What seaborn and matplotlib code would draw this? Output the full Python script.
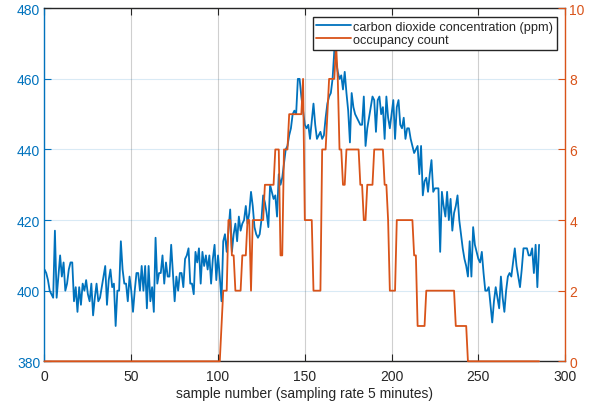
import matplotlib
matplotlib.use("Agg")
import pandas as pd
import seaborn as sns
import matplotlib.pyplot as plt

# CO2 readings per sample (ppm)
co2_ppm = [
    406, 405, 403, 400, 399, 398, 417, 398, 404, 410, 404, 408, 400, 402, 406, 408, 408, 397, 401, 394,
    401, 396, 402, 400, 403, 399, 397, 402, 393, 398, 402, 397, 398, 401, 404, 407, 396, 403, 406, 401,
    402, 390, 400, 400, 414, 406, 402, 402, 397, 404, 400, 394, 400, 405, 405, 400, 407, 400, 407, 395,
    407, 397, 401, 394, 415, 402, 405, 405, 410, 402, 408, 404, 404, 413, 405, 397, 404, 400, 405, 405,
    401, 409, 410, 412, 402, 402, 399, 411, 408, 412, 402, 411, 407, 410, 406, 410, 402, 409, 413, 403,
    410, 404, 397, 414, 416, 411, 417, 423, 411, 416, 419, 414, 421, 417, 419, 420, 424, 419, 422, 428,
    424, 418, 416, 415, 416, 420, 427, 425, 422, 418, 430, 428, 426, 427, 421, 433, 430, 432, 436, 440,
    441, 444, 446, 450, 451, 450, 460, 460, 455, 451, 447, 446, 447, 443, 448, 453, 447, 443, 444, 445,
    443, 444, 449, 453, 455, 456, 460, 468, 465, 462, 460, 461, 457, 462, 456, 451, 442, 456, 452, 450,
    449, 448, 447, 447, 455, 441, 446, 449, 452, 455, 454, 445, 454, 455, 450, 452, 443, 455, 449, 446,
    450, 454, 443, 452, 454, 447, 446, 449, 443, 446, 446, 443, 441, 439, 440, 441, 433, 441, 427, 431,
    432, 428, 433, 437, 428, 429, 429, 429, 411, 428, 424, 421, 428, 420, 426, 417, 422, 424, 427, 420,
    416, 412, 409, 407, 404, 414, 404, 418, 413, 411, 409, 408, 411, 405, 400, 400, 401, 396, 391, 397,
    401, 398, 395, 404, 398, 394, 400, 404, 405, 404, 408, 412, 407, 404, 401, 406, 412, 412, 412, 410,
    410, 412, 405, 413, 401, 413,
]

# Occupancy count per sample
occupancy = [
    0, 0, 0, 0, 0, 0, 0, 0, 0, 0, 0, 0, 0, 0, 0, 0, 0, 0, 0, 0,
    0, 0, 0, 0, 0, 0, 0, 0, 0, 0, 0, 0, 0, 0, 0, 0, 0, 0, 0, 0,
    0, 0, 0, 0, 0, 0, 0, 0, 0, 0, 0, 0, 0, 0, 0, 0, 0, 0, 0, 0,
    0, 0, 0, 0, 0, 0, 0, 0, 0, 0, 0, 0, 0, 0, 0, 0, 0, 0, 0, 0,
    0, 0, 0, 0, 0, 0, 0, 0, 0, 0, 0, 0, 0, 0, 0, 0, 0, 0, 0, 0,
    0, 0, 1, 2, 2, 2, 4, 4, 3, 3, 2, 2, 2, 2, 3, 3, 3, 4, 4, 2,
    4, 4, 4, 4, 4, 4, 4, 5, 5, 5, 5, 5, 5, 6, 6, 6, 3, 3, 6, 6,
    6, 7, 7, 7, 7, 7, 7, 7, 7, 8, 4, 4, 4, 4, 4, 2, 2, 2, 2, 2,
    6, 6, 6, 7, 8, 8, 8, 8, 9, 8, 6, 6, 5, 5, 6, 6, 6, 6, 6, 6,
    6, 6, 5, 5, 4, 4, 5, 5, 5, 5, 6, 6, 6, 6, 6, 6, 5, 5, 4, 2,
    2, 2, 2, 4, 4, 4, 4, 4, 4, 4, 4, 4, 4, 3, 3, 1, 1, 1, 1, 1,
    2, 2, 2, 2, 2, 2, 2, 2, 2, 2, 2, 2, 2, 2, 2, 2, 2, 1, 1, 1,
    1, 1, 1, 1, 0, 0, 0, 0, 0, 0, 0, 0, 0, 0, 0, 0, 0, 0, 0, 0,
    0, 0, 0, 0, 0, 0, 0, 0, 0, 0, 0, 0, 0, 0, 0, 0, 0, 0, 0, 0,
    0, 0, 0, 0, 0, 0,
]

sample = list(range(len(co2_ppm)))

x_ticks = [0, 50, 100, 150, 200, 250, 300]
co2_ticks = [380, 400, 420, 440, 460, 480]
occ_ticks = [0, 2, 4, 6, 8, 10]

blue = "#0072BD"
orange = "#D95319"
dark = "#262626"

sns.set_style("ticks")
plt.rcParams['font.family'] = ['Liberation Sans', 'DejaVu Sans']

df = pd.DataFrame({"sample": sample, "co2": co2_ppm, "occ": occupancy})

fig = plt.figure(figsize=(6.07, 4.02), dpi=100)
ax = fig.add_axes([0.0733, 0.0988, 0.8577, 0.8781])
sns.lineplot(data=df, x="sample", y="co2", ax=ax, color=blue, lw=1.3, legend=False)
ax2 = ax.twinx()
sns.lineplot(data=df, x="sample", y="occ", ax=ax2, color=orange, lw=1.3, legend=False)
for ln in ax2.lines: ln.set_clip_on(False)

# Limits and ticks
ax.set_xlim(0, 300)
ax.set_ylim(380, 480)
ax2.set_ylim(0, 10)
ax.set_xticks(x_ticks)
ax.set_yticks(co2_ticks)
ax2.set_yticks(occ_ticks)

# Grid: gray verticals, faint blue horizontals
ax.xaxis.grid(True, color="#cfcfcf", lw=0.8)
ax.yaxis.grid(True, color=blue, alpha=0.15, lw=0.8)
ax.set_axisbelow(True)

# Spines and tick styling
ax.spines['left'].set_color(blue)
ax.spines['right'].set_visible(False)
ax.spines['top'].set_color(dark)
ax.spines['bottom'].set_color(dark)
for s in ['left', 'top', 'bottom']: ax2.spines[s].set_visible(False)
ax2.spines['right'].set_color(orange)
for s in ax.spines.values(): s.set_linewidth(1.0)
ax2.spines['right'].set_linewidth(1.0)

ax.tick_params(axis='x', colors=dark, direction='in', top=True, length=5, labelsize=10, pad=5.5)
ax.tick_params(axis='y', colors=blue, direction='in', length=5, labelsize=10, pad=3)
ax2.tick_params(axis='y', colors=orange, direction='in', length=5, labelsize=10, pad=3)

ax.set_xlabel("sample number (sampling rate 5 minutes)", fontsize=10, color=dark, labelpad=2)
ax.set_ylabel("")
ax2.set_ylabel("")

handles = [ax.lines[0], ax2.lines[0]]
labels = ["carbon dioxide concentration (ppm)", "occupancy count"]
leg = ax2.legend(handles, labels, loc="upper right", bbox_to_anchor=(0.985, 0.976), borderaxespad=0,
                 fontsize=9.2, handlelength=2.7, handletextpad=0.2, labelspacing=0.1, borderpad=0.3,
                 fancybox=False, framealpha=1, edgecolor=dark)
leg.get_frame().set_linewidth(1.0)

fig.savefig("out.png", dpi=100)
